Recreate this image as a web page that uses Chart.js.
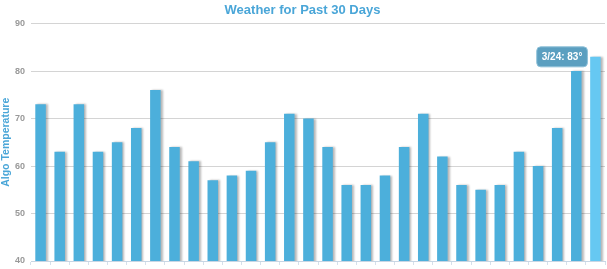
<!DOCTYPE html>
<html>
<head>
<meta charset="utf-8">
<script src="https://cdn.jsdelivr.net/npm/chart.js@4"></script>
<style>
  html, body { margin: 0; padding: 0; background: #fff; }
  #wrap { width: 607px; height: 269px; position: relative; }
</style>
</head>
<body>
<div id="wrap"><canvas id="weatherChart"></canvas></div>
<script>
// dates for the past 30 days
const days = ['2/23','2/24','2/25','2/26','2/27','2/28','3/1','3/2','3/3','3/4',
  '3/5','3/6','3/7','3/8','3/9','3/10','3/11','3/12','3/13','3/14',
  '3/15','3/16','3/17','3/18','3/19','3/20','3/21','3/22','3/23','3/24'];
// temperatures
const temps = [73,63,73,63,65,68,76,64,61,57,58,59,65,71,70,
  64,56,56,58,64,71,62,56,55,56,63,60,68,80,83];
const yTicks = [40, 50, 60, 70, 80, 90];

const barBlue = '#4cafdb';
const hoverBlue = '#66c8f2';
const activeIndex = temps.length - 1;
const fontFam = 'Liberation Sans, Arial, sans-serif';

// soft gray shadow on the right of each bar
const barShadow = {
  id: 'barShadow',
  beforeDatasetsDraw(chart) {
    const c = chart.ctx;
    c.save();
    c.shadowColor = 'rgba(0,0,0,0.28)';
    c.shadowOffsetX = 2;
    c.shadowOffsetY = 0;
    c.shadowBlur = 2;
  },
  afterDatasetsDraw(chart) {
    chart.ctx.restore();
  }
};

const ctx = document.getElementById('weatherChart').getContext('2d');
const chart = new Chart(ctx, {
  type: 'bar',
  data: {
    labels: days,
    datasets: [{
      data: temps,
      backgroundColor: temps.map((v, i) => i === activeIndex ? hoverBlue : barBlue),
      borderWidth: 0,
      barPercentage: 0.55,
      categoryPercentage: 1
    }]
  },
  options: {
    responsive: true,
    maintainAspectRatio: false,
    animation: false,
    events: [],
    layout: { padding: { top: 0, right: 2, left: 0, bottom: 0 } },
    plugins: {
      legend: { display: false },
      title: {
        display: true,
        text: 'Weather for Past 30 Days',
        color: '#4aa6d8',
        font: { family: fontFam, size: 13, weight: 'bold' },
        padding: { top: 3, bottom: 5 }
      },
      tooltip: {
        enabled: true,
        backgroundColor: '#5b9fc0',
        borderColor: '#8ec0d8',
        borderWidth: 1,
        cornerRadius: 4,
        displayColors: false,
        xAlign: 'right',
        yAlign: 'center',
        caretSize: 0,
        caretPadding: 8,
        padding: { top: 4, bottom: 4, left: 5, right: 5 },
        bodyColor: '#fff',
        bodyFont: { family: fontFam, size: 10, weight: 'bold' },
        callbacks: {
          title: () => '',
          label: (item) => `${item.label}: ${item.raw}°`
        }
      }
    },
    scales: {
      x: {
        afterFit: (scale) => { scale.height = 8; },
        ticks: { display: false, padding: 0 },
        grid: {
          display: true,
          drawOnChartArea: false,
          drawTicks: true,
          tickLength: 4,
          color: '#d6e0ea'
        },
        border: { display: true, color: '#c8d6e4', width: 1 }
      },
      y: {
        min: 40,
        max: 90,
        afterFit: (scale) => {
          scale.width = 31;
          scale.paddingTop = 0;
          scale.paddingBottom = 0;
        },
        afterBuildTicks: (axis) => { axis.ticks = yTicks.map(v => ({ value: v })); },
        ticks: {
          color: '#999',
          font: { family: fontFam, size: 9, weight: 'bold' },
          padding: 6
        },
        grid: { color: '#d4d4d4', drawTicks: false, lineWidth: 1 },
        border: { display: false },
        title: {
          display: true,
          text: 'Algo Temperature',
          color: '#4aa6d8',
          font: { family: fontFam, size: 10.5, weight: 'bold' },
          padding: { top: 0, bottom: 4 }
        }
      }
    }
  },
  plugins: [barShadow]
});

// show the tooltip on the last day
const meta = chart.getDatasetMeta(0);
const lastBar = meta.data[activeIndex];
chart.tooltip.setActiveElements([{ datasetIndex: 0, index: activeIndex }], { x: lastBar.x, y: lastBar.y });
chart.update();
</script>
</body>
</html>
